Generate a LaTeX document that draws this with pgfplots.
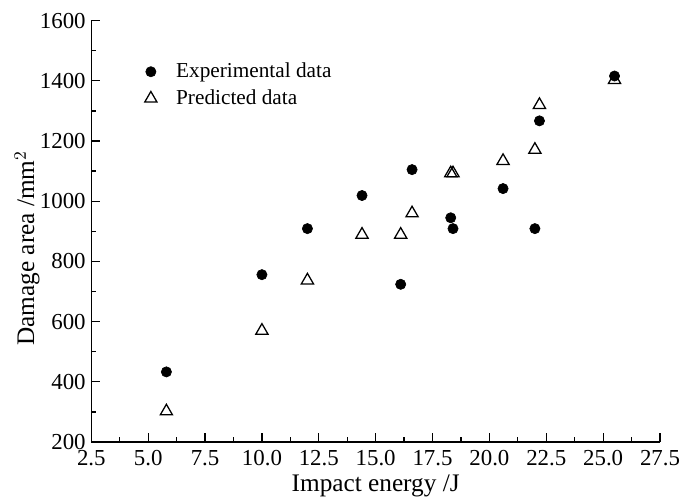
\documentclass[border=0pt]{standalone}
\usepackage{fontspec}
\setmainfont{Liberation Serif}
\usepackage{pgfplots}
\pgfplotsset{compat=1.18}

\begin{document}
\begin{tikzpicture}
\begin{axis}[
  scale only axis, width=355.6pt, height=263.5pt,
  xmin=2.5, xmax=27.5, ymin=200, ymax=1600,
  xtick={2.5,5,...,27.5}, ytick={200,400,...,1600},
  minor x tick num=1, minor y tick num=1,
  axis x line*=bottom, axis y line*=left, axis line style={-, line width=0.8pt},
  tick align=inside, major tick length=5.6pt, minor tick length=3pt,
  every tick/.style={black, line width=0.8pt},
  xticklabel style={/pgf/number format/fixed, /pgf/number format/fixed zerofill,
    /pgf/number format/precision=1, yshift=-1.5pt},
  yticklabel style={/pgf/number format/fixed, /pgf/number format/1000 sep={}},
  /pgf/number format/assume math mode=true,
  tick label style={font=\fontsize{14.3}{16}\selectfont},
  label style={font=\fontsize{15.8}{18}\selectfont},
  xlabel={Impact energy /J},
  xlabel style={yshift=1pt},
  ylabel={Damage area /mm$^{2}$},
  ylabel style={at={(axis description cs:-0.113,0.46)}, anchor=center, rotate=0},
  legend style={at={(axis description cs:0.085,0.915)}, anchor=north west, draw=none, fill=none,
    font=\fontsize{13.3}{15}\selectfont, row sep=2pt, column sep=10pt},
  legend cell align=left,
]
\addplot[only marks, mark=*, mark size=3.2pt, black] coordinates {
  (5.8,433) (10.0,756) (12.0,909) (14.4,1019) (16.1,724) (16.6,1105)
  (18.3,945) (18.4,909) (20.6,1042) (22.0,909) (22.2,1267) (25.5,1416) };
\addlegendentry{Experimental data}
\addplot[only marks, mark=triangle, mark size=4.4pt, black, mark options={line width=0.8pt}] coordinates {
  (5.8,302) (10.0,570) (12.0,737) (14.4,889) (16.1,889) (16.6,960)
  (18.3,1093) (18.4,1093) (20.6,1134) (22.0,1171) (22.2,1320) (25.5,1403) };
\addlegendentry{Predicted data}
\end{axis}
\pgfresetboundingbox
\path[use as bounding box] (-57.1pt,-36.7pt) rectangle (368.1pt,276.4pt);
\end{tikzpicture}
\end{document}
